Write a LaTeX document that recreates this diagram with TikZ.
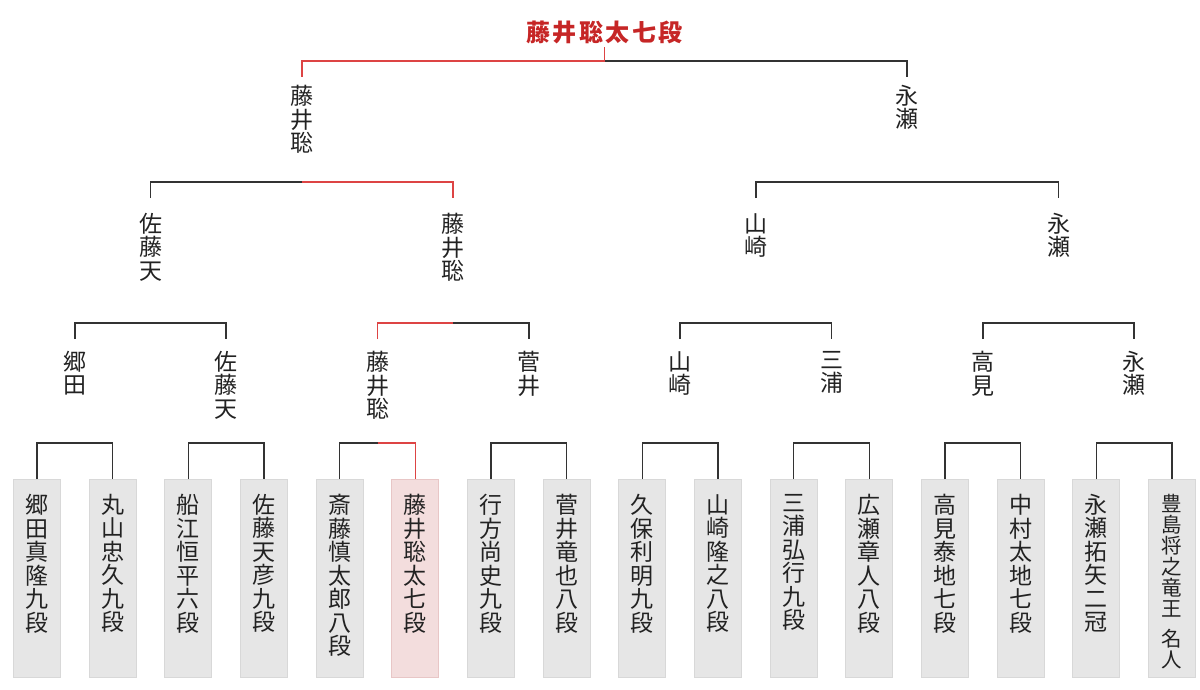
\documentclass[tikz,border=0pt]{standalone}
\usepackage{fontspec}
\newfontfamily\cjk{Noto Sans CJK JP}
\usetikzlibrary{calc}
\definecolor{linecol}{RGB}{51,51,51}
\definecolor{wincol}{RGB}{221,68,68}
\definecolor{titlecol}{RGB}{198,38,38}
\definecolor{boxfill}{RGB}{230,230,230}
\definecolor{boxline}{RGB}{216,216,216}
\definecolor{pinkfill}{RGB}{243,221,221}
\definecolor{pinkline}{RGB}{232,198,198}
\definecolor{txt}{RGB}{34,34,34}
\begin{document}
\begin{tikzpicture}[x=1pt,y=-1pt,
  leaf/.style={draw=boxline, fill=boxfill, line width=0.8pt, minimum width=47pt, minimum height=198pt, anchor=north, inner sep=0pt},
  winleaf/.style={leaf, draw=pinkline, fill=pinkfill},
  leaftext/.style={anchor=north, align=center, inner sep=0pt, text=txt, font=\cjk\fontsize{23}{23.5}\selectfont},
  smalltext/.style={leaftext, font=\cjk\fontsize{20.5}{21}\selectfont},
  lbl/.style={anchor=north, align=center, inner xsep=0pt, text=txt, font=\cjk\fontsize{23}{23.5}\selectfont},
  lbltwo/.style={lbl, inner ysep=12pt},
  lblthree/.style={lbl, inner ysep=15pt},
  lblfour/.style={lbl, inner ysep=8pt},
  ttl/.style={anchor=south, inner sep=3pt, text=titlecol, font=\cjk\bfseries\fontsize{24}{26}\selectfont},
  ln/.style={draw=linecol, line width=1.5pt},
  win/.style={draw=wincol, line width=1.5pt}
]
\useasboundingbox (0,0) rectangle (1200,690);

% leaf boxes
\node[leaf] (L1) at ({37+75.6667*0},479) {};
\node[leaf] (L2) at ({37+75.6667*1},479) {};
\node[leaf] (L3) at ({37+75.6667*2},479) {};
\node[leaf] (L4) at ({37+75.6667*3},479) {};
\node[leaf] (L5) at ({37+75.6667*4},479) {};
\node[winleaf] (L6) at ({37+75.6667*5},479) {};
\node[leaf] (L7) at ({37+75.6667*6},479) {};
\node[leaf] (L8) at ({37+75.6667*7},479) {};
\node[leaf] (L9) at ({37+75.6667*8},479) {};
\node[leaf] (L10) at ({37+75.6667*9},479) {};
\node[leaf] (L11) at ({37+75.6667*10},479) {};
\node[leaf] (L12) at ({37+75.6667*11},479) {};
\node[leaf] (L13) at ({37+75.6667*12},479) {};
\node[leaf] (L14) at ({37+75.6667*13},479) {};
\node[leaf] (L15) at ({37+75.6667*14},479) {};
\node[leaf] (L16) at ({37+75.6667*15},479) {};

% leaf texts
\node[leaftext] (N1) at ([yshift=-15pt]L1.north) {郷\\田\\真\\隆\\九\\段};
\node[leaftext] (N2) at ([yshift=-15pt]L2.north) {丸\\山\\忠\\久\\九\\段};
\node[leaftext] (N3) at ([yshift=-15pt]L3.north) {船\\江\\恒\\平\\六\\段};
\node[leaftext] (N4) at ([yshift=-15pt]L4.north) {佐\\藤\\天\\彦\\九\\段};
\node[leaftext] (N5) at ([yshift=-15pt]L5.north) {斎\\藤\\慎\\太\\郎\\八\\段};
\node[leaftext] (N6) at ([yshift=-15pt]L6.north) {藤\\井\\聡\\太\\七\\段};
\node[leaftext] (N7) at ([yshift=-15pt]L7.north) {行\\方\\尚\\史\\九\\段};
\node[leaftext] (N8) at ([yshift=-15pt]L8.north) {菅\\井\\竜\\也\\八\\段};
\node[leaftext] (N9) at ([yshift=-15pt]L9.north) {久\\保\\利\\明\\九\\段};
\node[leaftext] (N10) at ([yshift=-15pt]L10.north) {山\\崎\\隆\\之\\八\\段};
\node[leaftext] (N11) at ([yshift=-15pt]L11.north) {三\\浦\\弘\\行\\九\\段};
\node[leaftext] (N12) at ([yshift=-15pt]L12.north) {広\\瀬\\章\\人\\八\\段};
\node[leaftext] (N13) at ([yshift=-15pt]L13.north) {高\\見\\泰\\地\\七\\段};
\node[leaftext] (N14) at ([yshift=-15pt]L14.north) {中\\村\\太\\地\\七\\段};
\node[leaftext] (N15) at ([yshift=-15pt]L15.north) {永\\瀬\\拓\\矢\\二\\冠};
\node[smalltext] (N16) at ([yshift=-15pt]L16.north) {豊\\島\\将\\之\\竜\\王\\[9pt]名\\人};

% level-2 labels
\node[lbltwo] (A1) at ($(L1.north)!0.5!(L2.north)+(0,-140)$) {郷\\田};
\node[lbltwo] (A2) at ($(L3.north)!0.5!(L4.north)+(0,-140)$) {佐\\藤\\天};
\node[lbltwo] (A3) at ($(L5.north)!0.5!(L6.north)+(0,-140)$) {藤\\井\\聡};
\node[lbltwo] (A4) at ($(L7.north)!0.5!(L8.north)+(0,-140)$) {菅\\井};
\node[lbltwo] (A5) at ($(L9.north)!0.5!(L10.north)+(0,-140)$) {山\\崎};
\node[lbltwo] (A6) at ($(L11.north)!0.5!(L12.north)+(0,-140)$) {三\\浦};
\node[lbltwo] (A7) at ($(L13.north)!0.5!(L14.north)+(0,-140)$) {高\\見};
\node[lbltwo] (A8) at ($(L15.north)!0.5!(L16.north)+(0,-140)$) {永\\瀬};

% level-3 labels
\node[lblthree] (B1) at ($(A1.north)!0.5!(A2.north)+(0,-141)$) {佐\\藤\\天};
\node[lblthree] (B2) at ($(A3.north)!0.5!(A4.north)+(0,-141)$) {藤\\井\\聡};
\node[lblthree] (B3) at ($(A5.north)!0.5!(A6.north)+(0,-141)$) {山\\崎};
\node[lblthree] (B4) at ($(A7.north)!0.5!(A8.north)+(0,-141)$) {永\\瀬};

% level-4 labels
\node[lblfour] (C1) at ($(B1.north)!0.5!(B2.north)+(0,-121)$) {藤\\井\\聡};
\node[lblfour] (C2) at ($(B3.north)!0.5!(B4.north)+(0,-121)$) {永\\瀬};

% junction points
\coordinate (jA1) at ($(L1.north)!0.5!(L2.north)+(0,-36)$);
\coordinate (jA2) at ($(L3.north)!0.5!(L4.north)+(0,-36)$);
\coordinate (jA3) at ($(L5.north)!0.5!(L6.north)+(0,-36)$);
\coordinate (jA4) at ($(L7.north)!0.5!(L8.north)+(0,-36)$);
\coordinate (jA5) at ($(L9.north)!0.5!(L10.north)+(0,-36)$);
\coordinate (jA6) at ($(L11.north)!0.5!(L12.north)+(0,-36)$);
\coordinate (jA7) at ($(L13.north)!0.5!(L14.north)+(0,-36)$);
\coordinate (jA8) at ($(L15.north)!0.5!(L16.north)+(0,-36)$);
\coordinate (jB1) at ($(A1.north)!0.5!(A2.north)+(0,-16)$);
\coordinate (jB2) at ($(A3.north)!0.5!(A4.north)+(0,-16)$);
\coordinate (jB3) at ($(A5.north)!0.5!(A6.north)+(0,-16)$);
\coordinate (jB4) at ($(A7.north)!0.5!(A8.north)+(0,-16)$);
\coordinate (jC1) at ($(B1.north)!0.5!(B2.north)+(0,-16)$);
\coordinate (jC2) at ($(B3.north)!0.5!(B4.north)+(0,-16)$);
\coordinate (jT) at ($(C1.north)!0.5!(C2.north)+(0,-16)$);

% title
\node[ttl] (T) at ($(jT)+(0,-14)$) {藤\kern2.6pt井\kern2.6pt聡\kern2.6pt太\kern2.6pt七\kern2.6pt段};

% leaf brackets
\draw[ln] (L1.north) |- (jA1) -| (L2.north);
\draw[ln] (L3.north) |- (jA2) -| (L4.north);
\draw[ln] (L5.north) |- (jA3);
\draw[win] (jA3) -| (L6.north);
\draw[ln] (L7.north) |- (jA4) -| (L8.north);
\draw[ln] (L9.north) |- (jA5) -| (L10.north);
\draw[ln] (L11.north) |- (jA6) -| (L12.north);
\draw[ln] (L13.north) |- (jA7) -| (L14.north);
\draw[ln] (L15.north) |- (jA8) -| (L16.north);

% level-2 brackets
\draw[ln] (A1.north) |- (jB1) -| (A2.north);
\draw[ln] (jB2) -| (A4.north);
\draw[win] (A3.north) |- (jB2);
\draw[ln] (A5.north) |- (jB3) -| (A6.north);
\draw[ln] (A7.north) |- (jB4) -| (A8.north);

% level-3 brackets
\draw[ln] (B1.north) |- (jC1);
\draw[win] (jC1) -| (B2.north);
\draw[ln] (B3.north) |- (jC2) -| (B4.north);

% final bracket
\draw[ln] (jT) -| (C2.north);
\draw[win] (C1.north) |- (jT);
\draw[win] (jT) -- (T.south);
\end{tikzpicture}
\end{document}
